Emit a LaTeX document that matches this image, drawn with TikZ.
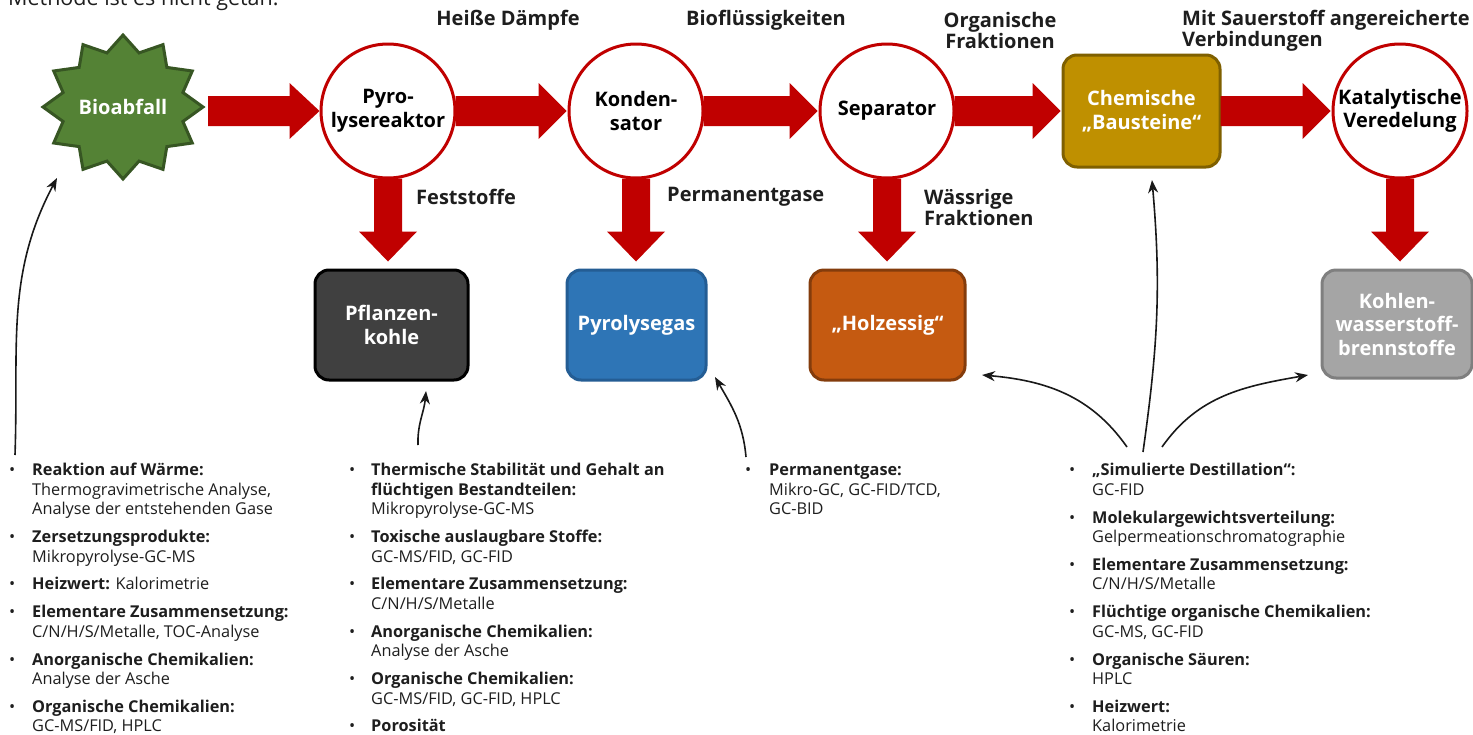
\documentclass[tikz,border=0pt]{standalone}
\usepackage{fontspec}
\setmainfont{Open Sans}
\usetikzlibrary{calc,arrows.meta}
\definecolor{arrowred}{HTML}{C00000}
\definecolor{biogreen}{HTML}{548235}
\definecolor{biogreend}{HTML}{375623}
\definecolor{goldf}{HTML}{BF9000}
\definecolor{goldd}{HTML}{7F6000}
\definecolor{charf}{HTML}{404040}
\definecolor{bluef}{HTML}{2E75B6}
\definecolor{blued}{HTML}{245D94}
\definecolor{rustf}{HTML}{C55A11}
\definecolor{rustd}{HTML}{843C0C}
\definecolor{grayf}{HTML}{A5A5A5}
\definecolor{grayd}{HTML}{7F7F7F}
\definecolor{txt}{HTML}{1E1E1E}
\newcommand{\bigfont}{\bfseries\fontsize{20}{21}\selectfont}
\newcommand{\nodefont}{\bfseries\fontsize{20}{23.5}\selectfont}
\newcommand{\listfont}{\fontsize{16.3}{19.5}\selectfont}
\begin{document}
\begin{tikzpicture}[x=1pt,y=-1pt,
  proc/.style={circle,draw=arrowred,line width=3pt,fill=white,minimum size=134pt,inner sep=0pt,align=center,font=\nodefont,text=black},
  prodbox/.style={rectangle,rounded corners=14pt,line width=3pt,align=center,font=\nodefont,text=white,inner sep=0pt},
  flowlabel/.style={font=\bigfont,text=txt,inner sep=0pt},
  listnode/.style={anchor=north west,inner sep=0pt,font=\listfont,text=txt},
  thinarrow/.style={line width=1.6pt,-{Stealth[length=13pt,width=10pt]},black!90}
]
\useasboundingbox[fill=white] (0,0) rectangle (1473,734);

% cut-off heading at the top
\node[anchor=base west,inner sep=0pt,font=\fontsize{21.5}{25}\selectfont,text=txt] (head) at (8,5) {Methode ist es nicht getan.};

% Bioabfall star
\filldraw[fill=biogreen,draw=biogreend,line width=3pt,line join=miter,shift={(123,107)}]
  (90:72) \foreach \i in {0,...,11} { -- ({90+\i*30+15}:62 and 56) -- ({90+\i*30+30}:80 and 72) } -- cycle;
\node[font=\nodefont,text=white,inner sep=0pt,minimum width=160pt,minimum height=144pt] (bio) at (123,107) {Bioabfall};

% process circles
\node[proc] (pyro) at (388,111) {Pyro-\\lysereaktor};
\node[proc] (kond) at (636,111) {Konden-\\sator};
\node[proc] (sep) at (887,111) {Separator};
\node[prodbox,fill=goldf,draw=goldd,minimum width=157pt,minimum height=112pt] (baus) at (1141.5,111) {Chemische\\„Bausteine“};
\node[proc] (kat) at (1400,111) {Katalytische\\Veredelung};

% product boxes
\node[prodbox,fill=charf,draw=black,minimum width=153pt,minimum height=110pt] (pflanz) at (391.5,325) {Pflanzen-\\kohle};
\node[prodbox,fill=bluef,draw=blued,minimum width=139pt,minimum height=110pt] (pgas) at (636.5,325) {Pyrolysegas};
\node[prodbox,fill=rustf,draw=rustd,minimum width=155pt,minimum height=110pt] (holz) at (887.5,325) {„Holzessig“};
\node[prodbox,fill=grayf,draw=grayd,minimum width=150pt,minimum height=108pt] (kws) at (1397,324) {Kohlen-\\wasserstoff-\\brennstoffe};

% horizontal red arrows
\fill[arrowred] let \p1=(bio.east), \p2=(pyro.west) in
  (208pt,\y2-15pt) -- (\x2-30pt,\y2-15pt) -- (\x2-30pt,\y2-28pt) -- (\x2,\y2) -- (\x2-30pt,\y2+28pt) -- (\x2-30pt,\y2+15pt) -- (208pt,\y2+15pt) -- cycle;
\foreach \a/\b in {pyro/kond,kond/sep,sep/baus,baus/kat}{
\fill[arrowred] let \p1=(\a.east), \p2=(\b.west) in
  (\x1-1pt,\y2-15pt) -- (\x2-29pt,\y2-15pt) -- (\x2-29pt,\y2-28pt) -- (\x2-1pt,\y2) -- (\x2-29pt,\y2+28pt) -- (\x2-29pt,\y2+15pt) -- (\x1-1pt,\y2+15pt) -- cycle;
}
% vertical red arrows
\foreach \a/\b in {pyro/pflanz,kond/pgas,sep/holz,kat/kws}{
\fill[arrowred] let \p1=(\a.south), \p2=(\b.north) in
  (\x1-14pt,\y1+1pt) -- (\x1-14pt,\y2+37pt) -- (\x1-29pt,\y2+37pt) -- (\x1,\y2+7pt) -- (\x1+29pt,\y2+37pt) -- (\x1+14pt,\y2+37pt) -- (\x1+14pt,\y1+1pt) -- cycle;
}

% flow labels
\node[flowlabel] (lhd) at (508,20) {Heiße Dämpfe};
\node[flowlabel] (lbf) at (766,20) {Bioflüssigkeiten};
\node[flowlabel,align=center] (lof) at (1000,30.5) {Organische\\Fraktionen};
\node[flowlabel,align=left,anchor=west] (lms) at (1182,30.5) {Mit Sauerstoff angereicherte\\Verbindungen};
\node[flowlabel,anchor=west] (lfs) at (416,197) {Feststoffe};
\node[flowlabel,anchor=west] (lpg) at (667,197) {Permanentgase};
\node[flowlabel,align=left,anchor=west] (lwf) at (924,207) {Wässrige\\Fraktionen};

% lists
\node[listnode] (list1) at (9,462) {\begin{tabular}{@{}p{23pt}@{}l@{}}
\textbullet & \textbf{Reaktion auf Wärme:}\\
 & Thermogravimetrische Analyse,\\
 & Analyse der entstehenden Gase\\[8.3pt]
\textbullet & \textbf{Zersetzungsprodukte:}\\
 & Mikropyrolyse-GC-MS\\[8.3pt]
\textbullet & \textbf{Heizwert:} Kalorimetrie\\[8.3pt]
\textbullet & \textbf{Elementare Zusammensetzung:}\\
 & C/N/H/S/Metalle, TOC-Analyse\\[8.3pt]
\textbullet & \textbf{Anorganische Chemikalien:}\\
 & Analyse der Asche\\[8.3pt]
\textbullet & \textbf{Organische Chemikalien:}\\
 & GC-MS/FID, HPLC
\end{tabular}};

\node[listnode] (list2) at (349,462) {\begin{tabular}{@{}p{22pt}@{}l@{}}
\textbullet & \textbf{Thermische Stabilität und Gehalt an}\\
 & \textbf{flüchtigen Bestandteilen:}\\
 & Mikropyrolyse-GC-MS\\[8.3pt]
\textbullet & \textbf{Toxische auslaugbare Stoffe:}\\
 & GC-MS/FID, GC-FID\\[8.3pt]
\textbullet & \textbf{Elementare Zusammensetzung:}\\
 & C/N/H/S/Metalle\\[8.3pt]
\textbullet & \textbf{Anorganische Chemikalien:}\\
 & Analyse der Asche\\[8.3pt]
\textbullet & \textbf{Organische Chemikalien:}\\
 & GC-MS/FID, GC-FID, HPLC\\[8.3pt]
\textbullet & \textbf{Porosität}
\end{tabular}};

\node[listnode] (list3) at (745,462) {\begin{tabular}{@{}p{24pt}@{}l@{}}
\textbullet & \textbf{Permanentgase:}\\
 & Mikro-GC, GC-FID/TCD,\\
 & GC-BID
\end{tabular}};

\node[listnode] (list4) at (1069,462) {\begin{tabular}{@{}p{23pt}@{}l@{}}
\textbullet & \textbf{„Simulierte Destillation“:}\\
 & GC-FID\\[8.3pt]
\textbullet & \textbf{Molekulargewichtsverteilung:}\\
 & Gelpermeationschromatographie\\[8.3pt]
\textbullet & \textbf{Elementare Zusammensetzung:}\\
 & C/N/H/S/Metalle\\[8.3pt]
\textbullet & \textbf{Flüchtige organische Chemikalien:}\\
 & GC-MS, GC-FID\\[8.3pt]
\textbullet & \textbf{Organische Säuren:}\\
 & HPLC\\[8.3pt]
\textbullet & \textbf{Heizwert:}\\
 & Kalorimetrie
\end{tabular}};

% thin annotation arrows
\coordinate (s1) at (15,455);  \coordinate (e1) at (57,178);
\coordinate (s2) at (418,445); \coordinate (e2) at (426,391);
\coordinate (s3) at (746,457); \coordinate (e3) at (715,377);
\coordinate (s4) at (1127,447); \coordinate (e4) at (982,375);
\coordinate (s5) at (1143,452); \coordinate (e5) at (1152,180);
\coordinate (s6) at (1162,447); \coordinate (e6) at (1308,375);
\draw[thinarrow] (s1) to[out=88,in=-118] (e1);
\draw[thinarrow] (s2) to[out=92,in=-95] (e2);
\draw[thinarrow] (s3) to[out=95,in=-60] (e3);
\draw[thinarrow] (s4) to[out=125,in=-5] (e4);
\draw[thinarrow] (s5) to[out=82,in=-85] (e5);
\draw[thinarrow] (s6) to[out=55,in=190] (e6);
\end{tikzpicture}
\end{document}
